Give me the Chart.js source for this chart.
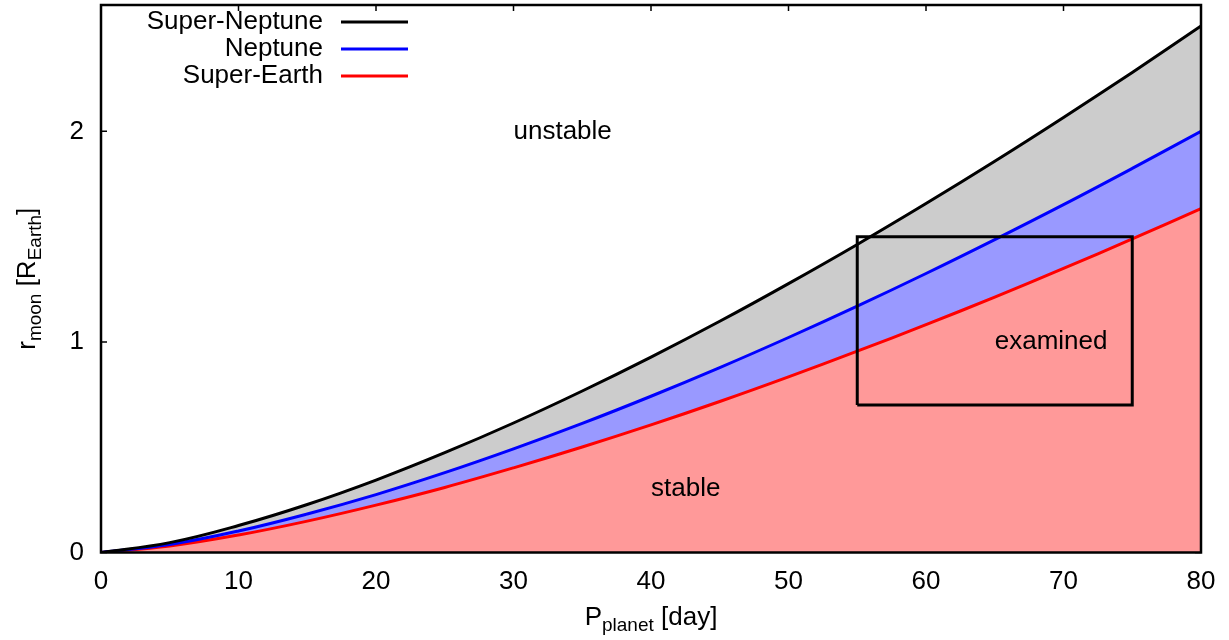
<!DOCTYPE html>
<html>
<head>
<meta charset="utf-8">
<script src="https://cdn.jsdelivr.net/npm/chart.js@4/dist/chart.umd.min.js"></script>
<style>
  html, body { margin: 0; padding: 0; background: #fff; }
  #wrap { width: 1229px; height: 640px; position: relative; }
</style>
</head>
<body>
<div id="wrap"><canvas id="moonChart"></canvas></div>
<script>
// periods in days, read every 5 days
const days = [0, 5, 10, 15, 20, 25, 30, 35, 40, 45, 50, 55, 60, 65, 70, 75, 80];
// max stable moon radius in Earth radii
const superNeptune = [0, 0.047, 0.128, 0.228, 0.344, 0.474, 0.615, 0.767, 0.928, 1.098, 1.277, 1.463, 1.657, 1.858, 2.066, 2.280, 2.500];
const neptune      = [0, 0.038, 0.102, 0.183, 0.275, 0.379, 0.492, 0.613, 0.742, 0.878, 1.021, 1.170, 1.325, 1.486, 1.652, 1.824, 2.000];
const superEarth   = [0, 0.031, 0.083, 0.149, 0.225, 0.309, 0.402, 0.501, 0.606, 0.717, 0.834, 0.956, 1.082, 1.213, 1.349, 1.489, 1.633];

// examined box corners
const boxDays = [55, 55, 75, 75, 55];
const boxRadius = [0.7, 1.5, 1.5, 0.7, 0.7];

const seriesNames = ["Super-Neptune", "Neptune", "Super-Earth"];
const xTicks = [0, 10, 20, 30, 40, 50, 60, 70, 80];
const yTicks = [0, 1, 2];

const regionTexts = ["unstable", "examined", "stable"];
const regionDays = [30, 65, 40];
const regionRadius = [2.0, 1.0, 0.3];

const FONT = '"Liberation Sans", Arial, Helvetica, sans-serif';
const lineColors = ["#000000", "#0000ff", "#ff0000"];
const fillColors = ["#cccccc", "#9999ff", "#ff9999"];

const toPoints = (xs, ys) => xs.map((x, i) => ({ x, y: ys[i] }));

// text with subscript parts: [[text, isSub], ...]
function richWidth(ctx, parts) {
  let w = 0;
  parts.forEach(([t, sub]) => {
    ctx.font = (sub ? "19px " : "26px ") + FONT;
    w += ctx.measureText(t).width;
  });
  return w;
}
function drawRich(ctx, parts, x, y) {
  let cx = x;
  parts.forEach(([t, sub]) => {
    ctx.font = (sub ? "19px " : "26px ") + FONT;
    ctx.fillText(t, cx, sub ? y + 6 : y);
    cx += ctx.measureText(t).width;
  });
}

const decorPlugin = {
  id: "decor",
  beforeDraw(chart) {
    const { ctx, chartArea: a, scales: { x, y } } = chart;
    ctx.save();
    ctx.strokeStyle = "#000";
    ctx.lineWidth = 1.5;
    const len = 6;
    ctx.beginPath();
    xTicks.forEach(v => {
      const px = x.getPixelForValue(v);
      ctx.moveTo(px, a.bottom); ctx.lineTo(px, a.bottom - len);
      ctx.moveTo(px, a.top); ctx.lineTo(px, a.top + len);
    });
    yTicks.forEach(v => {
      const py = y.getPixelForValue(v);
      ctx.moveTo(a.left, py); ctx.lineTo(a.left + len, py);
      ctx.moveTo(a.right, py); ctx.lineTo(a.right - len, py);
    });
    ctx.stroke();
    ctx.restore();
  },
  afterDatasetsDraw(chart) {
    const { ctx, chartArea: a, scales: { x, y } } = chart;
    ctx.save();
    // frame
    ctx.strokeStyle = "#000";
    ctx.lineWidth = 2.5;
    ctx.strokeRect(a.left, a.top, a.right - a.left, a.bottom - a.top);

    // region labels
    ctx.fillStyle = "#000";
    ctx.font = "26px " + FONT;
    ctx.textAlign = "left";
    ctx.textBaseline = "middle";
    regionTexts.forEach((t, i) => {
      ctx.fillText(t, x.getPixelForValue(regionDays[i]), y.getPixelForValue(regionRadius[i]));
    });

    // legend
    ctx.textAlign = "right";
    seriesNames.forEach((name, i) => {
      const ly = 22 + i * 27;
      ctx.fillStyle = "#000";
      ctx.fillText(name, 323, ly);
      ctx.strokeStyle = lineColors[i];
      ctx.lineWidth = 3;
      ctx.beginPath();
      ctx.moveTo(341, ly);
      ctx.lineTo(408, ly);
      ctx.stroke();
    });

    // axis titles
    ctx.textAlign = "left";
    ctx.textBaseline = "alphabetic";
    ctx.fillStyle = "#000";
    const xt = [["P", false], ["planet", true], [" [day]", false]];
    const xw = richWidth(ctx, xt);
    drawRich(ctx, xt, (a.left + a.right) / 2 - xw / 2, 625);

    const yt = [["r", false], ["moon", true], [" [R", false], ["Earth", true], ["]", false]];
    const yw = richWidth(ctx, yt);
    ctx.translate(35, (a.top + a.bottom) / 2);
    ctx.rotate(-Math.PI / 2);
    drawRich(ctx, yt, -yw / 2, 0);
    ctx.restore();
  }
};

const curve = (label, data, i, fill) => ({
  label,
  data: toPoints(days, data),
  borderColor: lineColors[i],
  backgroundColor: fillColors[i],
  borderWidth: 3,
  pointRadius: 0,
  tension: 0.4,
  fill
});

new Chart(document.getElementById("moonChart"), {
  type: "line",
  data: {
    datasets: [
      curve(seriesNames[0], superNeptune, 0, { target: 1 }),
      curve(seriesNames[1], neptune, 1, { target: 2 }),
      curve(seriesNames[2], superEarth, 2, "origin"),
      {
        label: "examined",
        data: toPoints(boxDays, boxRadius),
        borderColor: "#000",
        borderWidth: 3,
        pointRadius: 0,
        tension: 0,
        fill: false,
        order: -1
      }
    ]
  },
  options: {
    responsive: true,
    maintainAspectRatio: false,
    animation: false,
    layout: { autoPadding: false, padding: { top: 5, right: 28, left: 0, bottom: 0 } },
    plugins: {
      legend: { display: false },
      tooltip: { enabled: false },
      filler: { drawTime: "beforeDatasetsDraw" }
    },
    scales: {
      x: {
        type: "linear",
        min: 0,
        max: 80,
        grid: { display: false, drawTicks: false },
        border: { display: false },
        afterFit: s => { s.height = 87.5; s.paddingLeft = 0; s.paddingRight = 0; },
        ticks: {
          stepSize: 10,
          padding: 14,
          color: "#000",
          font: { family: FONT, size: 26 },
          maxRotation: 0
        }
      },
      y: {
        type: "linear",
        min: 0,
        max: 2.6,
        grid: { display: false, drawTicks: false },
        border: { display: false },
        afterFit: s => { s.width = 101; s.paddingTop = 0; s.paddingBottom = 0; },
        ticks: {
          stepSize: 1,
          includeBounds: false,
          padding: 17,
          color: "#000",
          font: { family: FONT, size: 26 }
        }
      }
    }
  },
  plugins: [decorPlugin]
});
</script>
</body>
</html>
